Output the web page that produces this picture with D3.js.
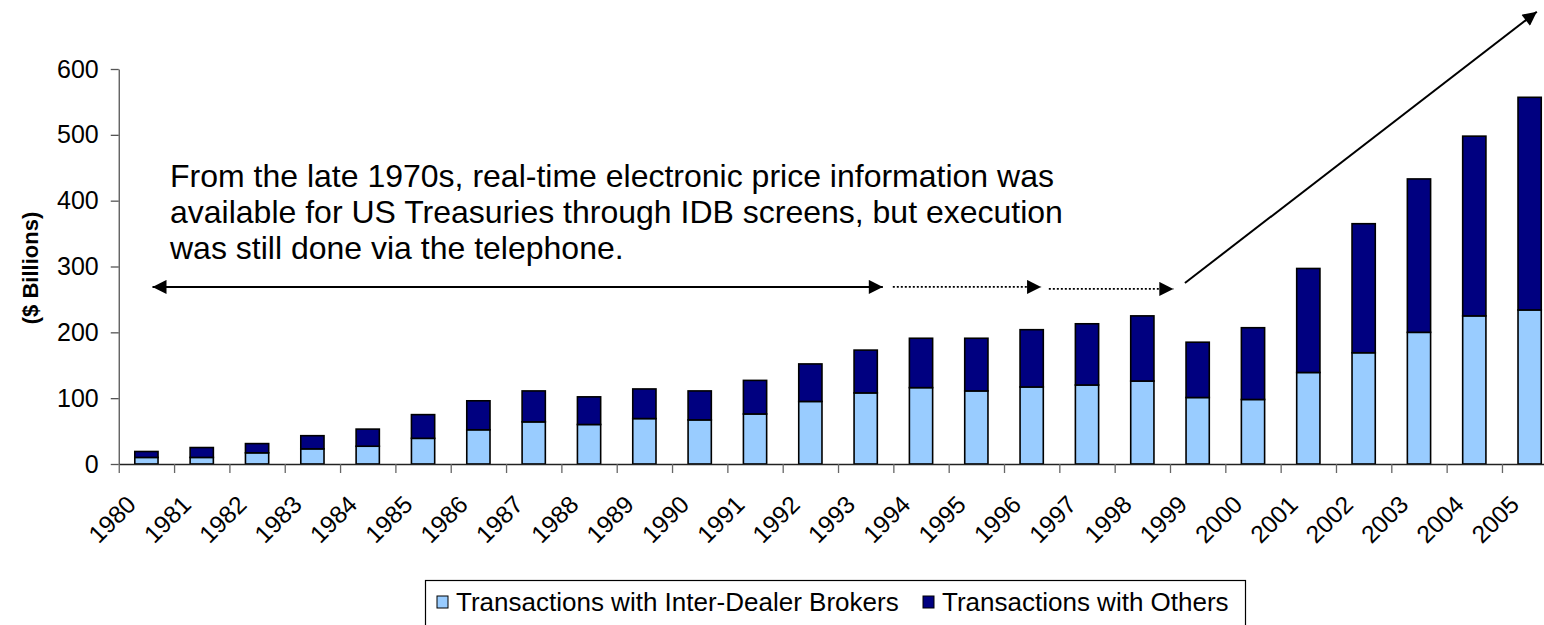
<!DOCTYPE html>
<html>
<head>
<meta charset="utf-8">
<script src="https://cdn.jsdelivr.net/npm/d3@7"></script>
<style>
  body { margin: 0; background: #fff; }
  text { font-family: "Liberation Sans", Arial, sans-serif; }
</style>
</head>
<body>
<div id="chart"></div>
<script>
const years = ["1980","1981","1982","1983","1984","1985","1986","1987","1988","1989","1990","1991","1992",
               "1993","1994","1995","1996","1997","1998","1999","2000","2001","2002","2003","2004","2005"];
const interDealer = [10, 10, 17, 23, 27, 39, 52, 64, 60, 69, 67, 76, 95, 108, 116, 111, 117, 120, 126, 101, 98, 139, 169, 200, 225, 234];
const others = [9, 15, 14, 20, 26, 36, 44, 47, 42, 45, 44, 51, 57, 65, 75, 80, 87, 93, 99, 84, 109, 158, 196, 233, 273, 323];
const yTicks = [0, 100, 200, 300, 400, 500, 600];
const seriesNames = ["Transactions with Inter-Dealer Brokers", "Transactions with Others"];
const seriesColors = ["#99ccff", "#000080"];
const noteLines = [
    "From the late 1970s, real-time electronic price information was",
    "available for US Treasuries through IDB screens, but execution",
    "was still done via the telephone."
];

const svgWidth = 1544;
const svgHeight = 625;
const svg = d3.select("#chart")
    .append("svg")
    .attr("width", svgWidth)
    .attr("height", svgHeight);

const data = years.map((y, i) => ({year: y, idb: interDealer[i], other: others[i]}));
const stack = d3.stack().keys(["idb", "other"])(data);

// plot runs a little past the right edge, like the original slide
const xScale = d3.scaleBand()
    .domain(years)
    .range([118.75, 1557.3])
    .paddingInner(0.58)
    .paddingOuter(0.29);

const idx = d3.scaleLinear()
    .domain([0, years.length])
    .range(xScale.range());

const yScale = d3.scaleLinear()
    .domain([0, 600])
    .range([464, 69]);

// bars
svg.selectAll(".series")
    .data(stack)
    .enter()
    .append("g")
    .attr("class", "series")
    .style("fill", (d, i) => seriesColors[i])
    .selectAll("rect")
    .data(d => d)
    .enter()
    .append("rect")
    .attr("x", d => xScale(d.data.year))
    .attr("width", xScale.bandwidth())
    .attr("y", d => yScale(d[1]))
    .attr("height", d => yScale(d[0]) - yScale(d[1]))
    .attr("stroke", "#000")
    .attr("stroke-width", 1.6);

// y axis
const yAxis = svg.append("g")
    .attr("transform", `translate(${xScale.range()[0]}, 0)`)
    .call(d3.axisLeft(yScale).tickValues(yTicks).tickSize(8).tickSizeOuter(0).tickPadding(12));
yAxis.select(".domain").attr("stroke", "#555").attr("stroke-width", 1.3);
yAxis.selectAll(".tick line").attr("stroke", "#555").attr("stroke-width", 1.3);
yAxis.selectAll("text")
    .attr("font-size", 25)
    .attr("fill", "#000")
    .style("font-family", "Liberation Sans, Arial, sans-serif");

// x axis: tick marks between categories
const xTicks = svg.append("g")
    .attr("transform", `translate(0, ${yScale(0)})`)
    .call(d3.axisBottom(idx).tickValues(d3.range(0, years.length + 1)).tickFormat("").tickSize(9).tickSizeOuter(0));
xTicks.select(".domain").attr("stroke", "#222").attr("stroke-width", 1.5);
xTicks.selectAll(".tick line").attr("stroke", "#666").attr("stroke-width", 1.3);

// x labels at category centres
svg.selectAll(".xlabel")
    .data(years)
    .enter()
    .append("text")
    .attr("class", "xlabel")
    .attr("transform", d => `translate(${xScale(d) + xScale.bandwidth() / 2 - 9}, 506) rotate(-45)`)
    .attr("text-anchor", "end")
    .attr("font-size", 24.5)
    .text(d => d);

// y title
svg.append("text")
    .attr("transform", "translate(38, 268) rotate(-90)")
    .attr("text-anchor", "middle")
    .attr("font-size", 22)
    .attr("font-weight", "bold")
    .text("($ Billions)");

// annotation text
svg.selectAll(".note")
    .data(noteLines)
    .enter()
    .append("text")
    .attr("class", "note")
    .attr("x", 170)
    .attr("y", (d, i) => 187 + i * 36)
    .attr("font-size", 32)
    .text(d => d);

// arrows
const defs = svg.append("defs");
defs.append("marker")
    .attr("id", "head")
    .attr("viewBox", "0 0 10 10")
    .attr("refX", 10)
    .attr("refY", 5)
    .attr("markerUnits", "userSpaceOnUse")
    .attr("markerWidth", 16)
    .attr("markerHeight", 14)
    .attr("orient", "auto-start-reverse")
    .append("path")
    .attr("d", "M0,0 L10,5 L0,10 Z")
    .attr("fill", "#000");

// arrow ends as [category index, value]
const arrows = [
    {from: [0.61, 269], to: [13.81, 269], dash: null, both: true},
    {from: [13.99, 269], to: [16.67, 269], dash: "2,2", both: false},
    {from: [16.81, 266], to: [19.06, 266], dash: "2,2", both: false},
    {from: [19.27, 275], to: [25.63, 687], dash: null, both: false}
];

svg.selectAll(".arrow")
    .data(arrows)
    .enter()
    .append("line")
    .attr("class", "arrow")
    .attr("x1", d => idx(d.from[0]))
    .attr("y1", d => yScale(d.from[1]))
    .attr("x2", d => idx(d.to[0]))
    .attr("y2", d => yScale(d.to[1]))
    .attr("stroke", "#000")
    .attr("stroke-width", d => d.dash ? 1.6 : 2)
    .attr("stroke-dasharray", d => d.dash)
    .attr("marker-end", "url(#head)")
    .attr("marker-start", d => d.both ? "url(#head)" : null);

// legend
const legend = svg.append("g");
legend.append("rect")
    .attr("x", 425.5)
    .attr("y", 580.5)
    .attr("width", 820)
    .attr("height", 70)
    .attr("fill", "#fff")
    .attr("stroke", "#000")
    .attr("stroke-width", 1.2);

const legendX = [437, 923];
const items = legend.selectAll(".item")
    .data(seriesNames)
    .enter()
    .append("g")
    .attr("transform", (d, i) => `translate(${legendX[i]}, 602)`);
items.append("rect")
    .attr("x", 0)
    .attr("y", -6)
    .attr("width", 11)
    .attr("height", 12)
    .attr("fill", (d, i) => seriesColors[i])
    .attr("stroke", "#000")
    .attr("stroke-width", 1);
items.append("text")
    .attr("x", 19)
    .attr("y", 9)
    .attr("font-size", 26)
    .text(d => d);
</script>
</body>
</html>
